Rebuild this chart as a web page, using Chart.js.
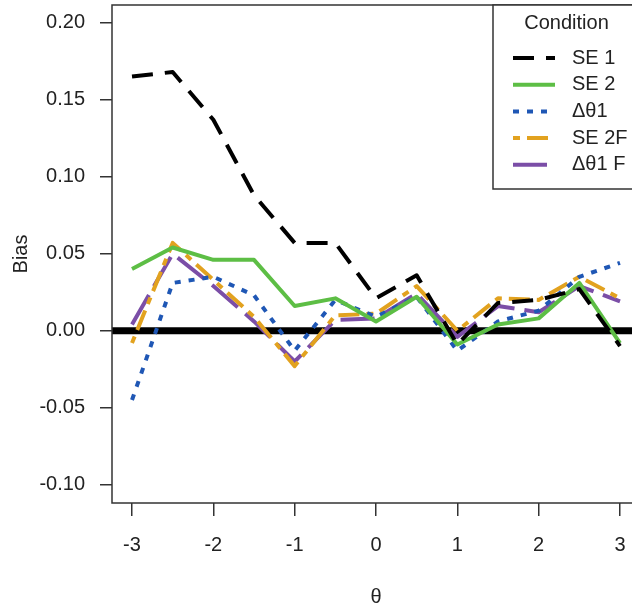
<!DOCTYPE html>
<html>
<head>
<meta charset="utf-8">
<script src="https://cdn.jsdelivr.net/npm/chart.js@4.4.0/dist/chart.umd.min.js"></script>
<style>
  html, body { margin: 0; padding: 0; background: #fff; overflow: hidden; }
  #wrap { width: 660px; height: 611px; }
</style>
</head>
<body>
<div id="wrap"><canvas id="myChart" width="660" height="611"></canvas></div>
<script>
// valores de sesgo por nivel de theta
const theta = [-3, -2.5, -2, -1.5, -1, -0.5, 0, 0.5, 1, 1.5, 2, 2.5, 3];
const se1 = [0.165, 0.168, 0.137, 0.088, 0.057, 0.057, 0.021, 0.036, -0.009, 0.018, 0.020, 0.027, -0.010];
const se2 = [0.040, 0.054, 0.046, 0.046, 0.016, 0.021, 0.006, 0.022, -0.009, 0.004, 0.008, 0.031, -0.008];
const dTheta1 = [-0.045, 0.031, 0.035, 0.023, -0.013, 0.020, 0.009, 0.022, -0.013, 0.006, 0.013, 0.035, 0.044];
const se2F = [-0.008, 0.057, 0.033, 0.009, -0.023, 0.010, 0.011, 0.029, 0.000, 0.021, 0.020, 0.035, 0.021];
const dTheta1F = [0.004, 0.050, 0.029, 0.006, -0.020, 0.007, 0.008, 0.024, -0.004, 0.016, 0.012, 0.029, 0.019];

const condiciones = ['SE 1', 'SE 2', 'Δθ1', 'SE 2F', 'Δθ1 F'];
const xTicks = [-3, -2, -1, 0, 1, 2, 3];
const yTicks = [-0.10, -0.05, 0.00, 0.05, 0.10, 0.15, 0.20];

const fuente = 'Liberation Sans, Arial, sans-serif';
const puntos = serie => theta.map((t, i) => ({ x: t, y: serie[i] }));

function linea(label, serie, color, dash) {
  return {
    label: label,
    data: puntos(serie),
    borderColor: color,
    borderWidth: 4,
    borderDash: dash,
    borderJoinStyle: 'round',
    pointRadius: 0,
    fill: false,
    tension: 0
  };
}

// sin relleno extra alrededor de los ejes
function sinPadding(s) {
  s.paddingTop = 0;
  s.paddingBottom = 0;
  s.paddingLeft = 0;
  s.paddingRight = 0;
}

// linea de referencia en cero, marco del grafico y leyenda
const marco = {
  id: 'marco',
  beforeDatasetsDraw(chart) {
    const { ctx, chartArea: a, scales: { y } } = chart;
    const y0 = y.getPixelForValue(0);
    ctx.save();
    ctx.strokeStyle = '#000';
    ctx.lineWidth = 7;
    ctx.beginPath();
    ctx.moveTo(a.left, y0);
    ctx.lineTo(a.right, y0);
    ctx.stroke();
    ctx.restore();
  },
  afterDatasetsDraw(chart) {
    const { ctx, chartArea: a } = chart;
    ctx.save();
    ctx.strokeStyle = '#333';
    ctx.lineWidth = 1.5;
    ctx.strokeRect(a.left, a.top, a.right - a.left, a.bottom - a.top);

    // leyenda arriba a la derecha
    const izq = 493, abajo = 189;
    ctx.fillStyle = '#fff';
    ctx.fillRect(izq, a.top, a.right - izq, abajo - a.top);
    ctx.strokeRect(izq, a.top, a.right - izq, abajo - a.top);
    ctx.fillStyle = '#222';
    ctx.font = '20px ' + fuente;
    ctx.textBaseline = 'middle';
    ctx.textAlign = 'center';
    ctx.fillText('Condition', (izq + a.right) / 2, 23);
    ctx.textAlign = 'left';
    chart.data.datasets.forEach((ds, i) => {
      const yy = 58 + i * 26.7;
      ctx.strokeStyle = ds.borderColor;
      ctx.lineWidth = 4;
      ctx.setLineDash(ds.borderDash || []);
      ctx.beginPath();
      ctx.moveTo(513, yy);
      ctx.lineTo(555, yy);
      ctx.stroke();
      ctx.setLineDash([]);
      ctx.fillText(ds.label, 572, yy);
    });
    ctx.restore();
  }
};

const ctx = document.getElementById('myChart');
new Chart(ctx, {
  type: 'line',
  data: {
    datasets: [
      linea(condiciones[0], se1, '#000000', [21, 12]),
      linea(condiciones[1], se2, '#5DBE45', []),
      linea(condiciones[2], dTheta1, '#1F57B5', [6, 8]),
      linea(condiciones[3], se2F, '#E2A21F', [7, 7, 21, 7]),
      linea(condiciones[4], dTheta1F, '#7B4EA7', [34, 10])
    ]
  },
  options: {
    responsive: false,
    animation: false,
    layout: { padding: { top: 5, right: 20, left: 0, bottom: 0 } },
    plugins: { legend: { display: false }, tooltip: { enabled: false } },
    scales: {
      x: {
        type: 'linear',
        min: -3.246,
        max: 3.246,
        afterBuildTicks: s => { s.ticks = xTicks.map(v => ({ value: v })); },
        afterFit: s => { s.height = 108; sinPadding(s); },
        border: { display: false },
        grid: { drawOnChartArea: false, drawTicks: true, tickLength: 13, color: '#333', lineWidth: 1.5 },
        ticks: {
          padding: 17,
          color: '#222',
          font: { family: fuente, size: 20 },
          callback: v => String(v)
        },
        title: { display: true, text: 'θ', color: '#222', font: { family: fuente, size: 20 }, padding: { bottom: 2 } }
      },
      y: {
        min: -0.1119,
        max: 0.2115,
        afterBuildTicks: s => { s.ticks = yTicks.map(v => ({ value: v })); },
        afterFit: s => { s.width = 112; sinPadding(s); },
        border: { display: false },
        grid: { drawOnChartArea: false, drawTicks: true, tickLength: 12, color: '#333', lineWidth: 1.5 },
        ticks: {
          padding: 15,
          color: '#222',
          font: { family: fuente, size: 20 },
          callback: v => v.toFixed(2)
        },
        title: { display: true, text: 'Bias', color: '#222', font: { family: fuente, size: 20 }, padding: { top: 9 } }
      }
    }
  },
  plugins: [marco]
});
</script>
</body>
</html>
